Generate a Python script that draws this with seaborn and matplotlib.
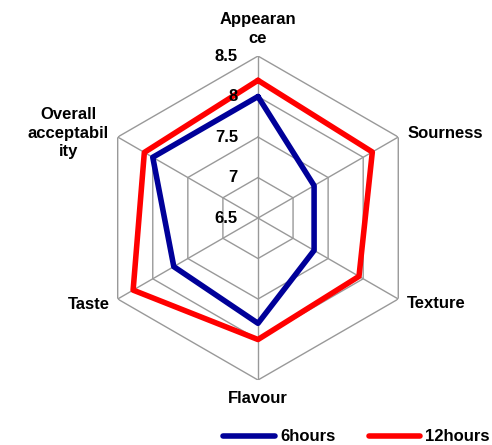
import numpy as np
import pandas as pd
import matplotlib
matplotlib.use("Agg")
import matplotlib.pyplot as plt
from matplotlib.lines import Line2D
import seaborn as sns

categories = ["Appearan\nce", "Sourness", "Texture", "Flavour", "Taste", "Overall\nacceptabil\nity"]
series_names = ["6hours", "12hours"]
values_6h = [8.0, 7.3, 7.3, 7.8, 7.7, 8.0]
values_12h = [8.2, 8.13, 7.94, 8.0, 8.28, 8.12]
tick_values = [6.5, 7, 7.5, 8, 8.5]
tick_labels = ["6.5", "7", "7.5", "8", "8.5"]
colors = {"6hours": "#000099", "12hours": "#FF0000"}

sns.set_theme(style="white")
plt.rcParams["font.family"] = ["Liberation Sans", "DejaVu Sans"]
plt.rcParams["font.weight"] = "bold"
plt.rcParams["text.color"] = "black"

n = len(categories)
angles = [np.pi / 2 - k * 2 * np.pi / n for k in range(n + 1)]

rows = []
for name, vals in zip(series_names, [values_6h, values_12h]):
    closed = list(vals) + [vals[0]]
    for a, v in zip(angles, closed):
        rows.append({"theta": a, "value": v, "series": name})
df = pd.DataFrame(rows)

fig = plt.figure(figsize=(4.92, 4.45), dpi=100)
ax = fig.add_axes([0.1951, 0.146, 0.6585, 0.7281], projection="polar")
ax.set_ylim(6.5, 8.5)
ax.grid(False)
ax.spines["polar"].set_visible(False)
ax.set_xticks([])
ax.set_yticks([])

grid_col = "#999999"
for lvl in tick_values[1:]:
    ax.plot(angles, [lvl] * len(angles), color=grid_col, lw=1.0, zorder=1)
for a in angles[:-1]:
    ax.plot([a, a], [6.5, 8.5], color=grid_col, lw=1.0, zorder=1)

sns.lineplot(data=df, x="theta", y="value", hue="series", palette=colors,
             sort=False, estimator=None, lw=4, ax=ax, zorder=3)
if ax.get_legend() is not None:
    ax.get_legend().remove()
ax.set_xlabel("")
ax.set_ylabel("")

for lvl, lab in zip(tick_values, tick_labels):
    ax.annotate(lab, xy=(np.pi / 2, lvl), xytext=(-20, 0), textcoords="offset pixels",
                ha="right", va="center", fontsize=12, fontweight="bold", color="black")

offsets = [(0, 10, "center", "bottom"),
           (9, 4, "left", "center"),
           (9, -4, "left", "center"),
           (0, -18, "center", "center"),
           (-8, -5, "right", "center"),
           (-9, 4, "right", "center")]
for a, cat, (dx, dy, ha, va) in zip(angles[:-1], categories, offsets):
    ax.annotate(cat, xy=(a, 8.5), xytext=(dx, dy), textcoords="offset pixels",
                ha=ha, va=va, multialignment="center", fontsize=12, fontweight="bold",
                linespacing=1.3, color="black")

handles = [Line2D([0], [0], color=colors[s], lw=4) for s in series_names]
leg = fig.legend(handles, series_names, loc="center", bbox_to_anchor=(0.7246, 0.018),
                 ncol=2, frameon=False, handlelength=3.1, handletextpad=0.3,
                 columnspacing=2.0, prop={"weight": "bold", "size": 12})
for t in leg.get_texts():
    t.set_color("black")

fig.savefig("out.png", dpi=100)
